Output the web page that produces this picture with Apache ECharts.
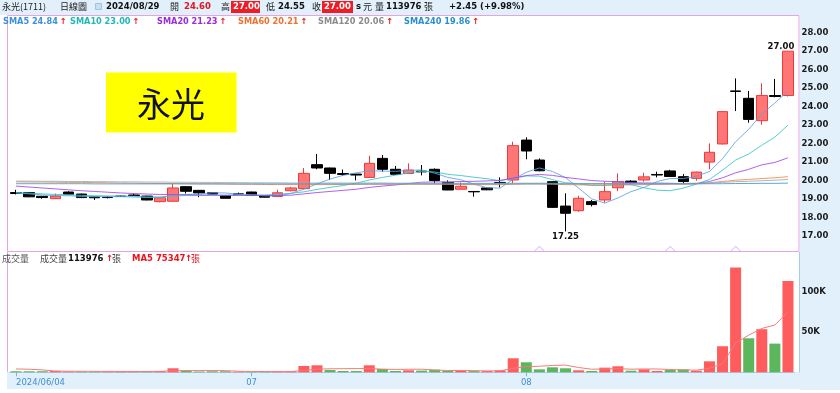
<!DOCTYPE html>
<html><head><meta charset="utf-8">
<script src="https://cdn.jsdelivr.net/npm/echarts@6/dist/echarts.min.js"></script>
<style>html,body{margin:0;padding:0;background:#fff}#c{width:840px;height:393px}</style>
</head><body><div id="c"></div><script>
const dates = ['2024/06/04','2024/06/05','2024/06/06','2024/06/07','2024/06/11','2024/06/12','2024/06/13','2024/06/14','2024/06/17','2024/06/18','2024/06/19','2024/06/20','2024/06/21','2024/06/24','2024/06/25','2024/06/26','2024/06/27','2024/06/28',
'2024/07/01','2024/07/02','2024/07/03','2024/07/04','2024/07/05','2024/07/08','2024/07/09','2024/07/10','2024/07/11','2024/07/12','2024/07/15','2024/07/16','2024/07/17','2024/07/18','2024/07/19','2024/07/22','2024/07/23','2024/07/26','2024/07/29','2024/07/30','2024/07/31',
'2024/08/01','2024/08/02','2024/08/05','2024/08/06','2024/08/07','2024/08/08','2024/08/09','2024/08/12','2024/08/13','2024/08/14','2024/08/15','2024/08/16','2024/08/19','2024/08/20','2024/08/21','2024/08/22','2024/08/23','2024/08/26','2024/08/27','2024/08/28','2024/08/29'];
const opens = [19.35,19.35,19.15,19.02,19.38,19.27,19.12,19.10,19.16,19.22,19.16,18.86,18.88,19.67,19.47,19.34,19.18,19.28,19.38,19.18,19.14,19.45,19.56,20.86,20.68,20.38,20.35,20.17,21.20,20.61,20.38,20.51,20.61,19.90,19.53,19.41,19.60,19.90,20.03,22.19,21.11,19.94,18.62,18.37,18.86,18.95,19.61,19.97,20.03,20.33,20.52,20.21,20.12,21.00,21.98,24.85,24.45,23.24,24.60,24.60];
const closes = [19.30,19.12,19.08,19.16,19.26,19.08,19.07,19.08,19.14,19.19,18.95,19.07,19.60,19.42,19.33,19.27,19.04,19.24,19.20,19.10,19.34,19.60,20.39,20.68,20.39,20.33,20.30,20.93,20.61,20.34,20.57,20.47,20.00,19.49,19.69,19.39,19.50,19.88,21.89,21.60,20.53,18.55,18.23,19.04,18.70,19.40,19.94,19.90,20.20,20.30,20.22,19.95,20.46,21.53,23.73,24.82,23.31,24.60,24.55,27.00];
const lows = [19.25,19.10,19.02,19.00,19.24,19.05,18.95,19.03,19.12,19.17,18.93,18.82,18.86,19.30,19.10,19.25,19.03,19.22,19.17,19.08,19.12,19.42,19.55,20.61,20.03,20.25,20.01,20.15,20.48,20.32,20.36,20.28,19.85,19.48,19.52,19.13,19.48,19.63,19.85,21.15,20.50,18.52,17.25,18.31,18.60,18.80,19.43,19.82,19.94,20.17,20.20,19.81,19.99,20.61,21.95,23.76,23.13,23.02,24.50,24.55];
const highs = [19.50,19.38,19.16,19.30,19.42,19.30,19.12,19.15,19.18,19.29,19.18,19.09,19.82,19.68,19.49,19.36,19.19,19.35,19.40,19.20,19.50,19.66,20.68,21.44,20.70,20.60,20.37,21.34,21.38,20.79,20.93,20.84,20.66,20.01,19.90,19.42,19.65,20.17,22.10,22.34,21.20,19.96,19.31,19.18,18.95,19.94,20.39,20.02,20.42,20.48,20.58,20.35,20.48,22.01,23.75,25.53,24.85,25.26,25.50,27.00];
const volumes = [1300,1300,1300,1700,1000,1000,1000,1000,1000,1000,1200,1500,5000,2000,1000,1300,1300,800,700,700,1000,1200,7900,8750,2900,1700,1700,8750,4200,1700,2500,2100,3300,1700,1700,1500,1500,2500,17500,12500,3700,6200,5000,2500,1700,5800,7500,2000,3700,1600,2900,3700,2000,13700,32500,130800,42400,53800,35760,113976];
const volMa5 = [4200,3800,3000,1500,1320,1260,1200,1140,1000,1000,1040,1140,1940,2140,2140,2160,2120,1280,1020,960,900,880,2300,3910,4350,4490,4590,4760,3850,3610,3770,3850,2760,2260,2260,2060,1740,1780,4940,7100,7540,8480,8980,5980,3820,4240,4500,3900,4140,4120,3540,2780,2780,4780,10960,36540,46280,54640,59050,75347];
const ma5 = [19.32,19.28,19.22,19.18,19.18,19.14,19.13,19.13,19.13,19.11,19.09,19.09,19.19,19.25,19.27,19.34,19.33,19.26,19.22,19.17,19.18,19.30,19.53,19.82,20.08,20.28,20.42,20.53,20.51,20.50,20.55,20.58,20.40,20.17,20.04,19.81,19.61,19.59,20.07,20.45,20.68,20.49,20.16,19.59,19.01,18.78,19.06,19.40,19.63,19.95,20.11,20.11,20.23,20.49,21.18,22.10,22.77,23.60,24.20,24.84];
const ma10 = [19.35,19.32,19.28,19.25,19.23,19.20,19.18,19.17,19.16,19.15,19.11,19.11,19.16,19.19,19.19,19.21,19.21,19.23,19.23,19.22,19.26,19.31,19.39,19.52,19.63,19.73,19.86,20.03,20.17,20.29,20.41,20.50,20.46,20.34,20.27,20.18,20.10,19.99,20.12,20.25,20.24,20.05,19.88,19.83,19.73,19.73,19.78,19.78,19.61,19.48,19.45,19.59,19.81,20.06,20.56,21.11,21.44,21.91,22.35,23.00];
const ma20 = [19.70,19.65,19.60,19.55,19.50,19.45,19.41,19.37,19.33,19.30,19.27,19.25,19.24,19.23,19.22,19.21,19.20,19.20,19.19,19.19,19.19,19.21,19.28,19.35,19.41,19.47,19.53,19.63,19.70,19.76,19.84,19.91,19.93,19.93,19.95,19.96,19.98,20.01,20.14,20.27,20.33,20.28,20.17,20.09,20.00,19.96,19.94,19.89,19.87,19.86,19.85,19.82,19.84,19.95,20.15,20.42,20.61,20.85,20.98,21.23];
const ma60 = [19.93,19.92,19.92,19.91,19.90,19.90,19.89,19.88,19.87,19.86,19.85,19.84,19.84,19.83,19.82,19.82,19.81,19.80,19.80,19.79,19.78,19.78,19.78,19.78,19.78,19.79,19.79,19.80,19.80,19.80,19.80,19.80,19.80,19.79,19.79,19.78,19.78,19.78,19.80,19.82,19.82,19.80,19.78,19.77,19.76,19.76,19.77,19.77,19.78,19.79,19.80,19.81,19.83,19.88,19.95,20.02,20.06,20.11,20.15,20.21];
const ma120 = [19.97,19.97,19.96,19.96,19.95,19.95,19.94,19.94,19.93,19.93,19.92,19.92,19.91,19.91,19.90,19.90,19.89,19.89,19.88,19.88,19.88,19.87,19.87,19.87,19.87,19.87,19.87,19.87,19.87,19.86,19.86,19.86,19.86,19.86,19.85,19.85,19.85,19.85,19.86,19.86,19.86,19.85,19.85,19.84,19.84,19.84,19.84,19.84,19.85,19.85,19.85,19.85,19.86,19.87,19.90,19.94,19.96,19.99,20.02,20.06];
const ma240 = [19.83,19.83,19.83,19.83,19.83,19.83,19.82,19.82,19.82,19.82,19.82,19.82,19.82,19.82,19.82,19.82,19.82,19.82,19.82,19.82,19.82,19.82,19.82,19.82,19.82,19.82,19.82,19.82,19.82,19.82,19.82,19.82,19.82,19.82,19.82,19.82,19.82,19.82,19.82,19.82,19.82,19.82,19.82,19.82,19.82,19.82,19.82,19.82,19.82,19.82,19.82,19.82,19.82,19.83,19.83,19.84,19.84,19.85,19.85,19.86];
const eventMarks = [[40,16.3],[50,16.3],[55,16.3]];
const maNames = ['SMA5','SMA10','SMA20','SMA60','SMA120','SMA240'];
const maLast = ['24.84','23.00','21.23','20.21','20.06','19.86'];

const maLineColors = ['#5aa2e6','#35c4c4','#a244ee','#f3864a','#a8a8a8','#3a9ad6'];
const maTextColors = ['#3d8fe0','#22b8b8','#9a2be2','#ef7030','#8c8c8c','#2a8fd0'];
const maX = [3,70,157,238,318,404];
const numFont = 'bold 8.5px "DejaVu Sans", Verdana, sans-serif';
const legFont = 'bold 8.2px "DejaVu Sans", Verdana, sans-serif';
const cjkFont = '9px "Noto Sans CJK TC", sans-serif';

const candleData = opens.map((o,i)=>[o, closes[i], lows[i], highs[i]]);
const volData = volumes.map((v,i)=>({value:v, itemStyle:{color: (i>0 && closes[i] >= closes[i-1]) ? '#ff5d5d' : '#5cb65c'}}));
const isMonthStart = (idx) => idx===0 || dates[idx].slice(5,7)!==dates[idx-1].slice(5,7);

function txt(x, y, text, font, fill, extra){
  return Object.assign({type:'text', x:x, y:y, z:50, silent:true,
    style:{text:text, font:font, fill:fill, textVerticalAlign:'middle', verticalAlign:'middle'}}, extra||{});
}
const graphics = [
  {type:'rect', shape:{x:0,y:0,width:840,height:15}, style:{fill:'#e2f0fb'}, z:-10, silent:true},
  {type:'rect', shape:{x:800,y:15,width:40,height:375}, style:{fill:'#e2f0fb'}, z:-10, silent:true},
  {type:'rect', shape:{x:7,y:372,width:793,height:17}, style:{fill:'#e2f0fb'}, z:-10, silent:true},
  {type:'rect', shape:{x:7.5,y:15.5,width:791.5,height:236}, style:{fill:null, stroke:'#e3a6e3', lineWidth:1}, z:40, silent:true},
  {type:'line', shape:{x1:7.5,y1:251.5,x2:7.5,y2:372}, style:{stroke:'#e3a6e3', lineWidth:1}, z:40, silent:true},
  {type:'line', shape:{x1:799.5,y1:252,x2:799.5,y2:372.5}, style:{stroke:'#a9cde9', lineWidth:1}, z:40, silent:true},
  {type:'rect', shape:{x:106,y:72.5,width:130.5,height:60}, style:{fill:'#ffff00'}, z:30, silent:true},
  txt(171, 104, '永光', '34px "Noto Sans CJK TC", sans-serif', '#111', {style:{text:'永光', font:'34px "Noto Sans CJK TC", sans-serif', fill:'#111', textAlign:'center', align:'center', textVerticalAlign:'middle', verticalAlign:'middle'}}),
  // header
  txt(2, 7, '永光(1711)', cjkFont, '#222'),
  txt(60, 7, '日線圖', cjkFont, '#222'),
  {type:'rect', shape:{x:95.5,y:3.5,width:6,height:6}, style:{fill:'#c6e0f2', stroke:'#9cc6e6'}, z:50, silent:true},
  txt(106, 7, '2024/08/29', numFont, '#111'),
  txt(170, 7, '開', cjkFont, '#222'),
  txt(184, 7, '24.60', numFont, '#e8141e'),
  txt(221, 7, '高', cjkFont, '#222'),
  {type:'rect', shape:{x:231,y:1,width:29,height:12}, style:{fill:'#ee1c24'}, z:45, silent:true},
  txt(233, 7, '27.00', numFont, '#fff'),
  txt(266, 7, '低', cjkFont, '#222'),
  txt(278, 7, '24.55', numFont, '#111'),
  txt(312, 7, '收', cjkFont, '#222'),
  {type:'rect', shape:{x:322,y:1,width:31,height:12}, style:{fill:'#ee1c24'}, z:45, silent:true},
  txt(324, 7, '27.00', numFont, '#fff'),
  txt(356, 7, 's', numFont, '#111'),
  txt(363, 7, '元', cjkFont, '#222'),
  txt(375, 7, '量', cjkFont, '#222'),
  txt(386, 7, '113976', numFont, '#111'),
  txt(424, 7, '張', cjkFont, '#222'),
  txt(449, 7, '+2.45 (+9.98%)', numFont, '#111'),
  // volume legend
  txt(2, 258.5, '成交量', cjkFont, '#555'),
  txt(40, 258.5, '成交量', cjkFont, '#444'),
  txt(68, 258.5, '113976', numFont, '#111'),
  txt(106, 258.5, '↑', numFont, '#e8141e'),
  txt(112, 258.5, '張', cjkFont, '#444'),
  txt(132, 258.5, 'MA5 75347', numFont, '#e8141e'),
  txt(185, 258.5, '↑', numFont, '#e8141e'),
  txt(191, 258.5, '張', cjkFont, '#e8141e')
];
maNames.forEach((n,k)=>{
  graphics.push({type:'text', x:maX[k], y:22, z:50, silent:true, style:{
    text:'{n|'+n+' '+maLast[k]+'}{a|↑}', font:legFont, textVerticalAlign:'middle', verticalAlign:'middle',
    rich:{n:{fill:maTextColors[k], color:maTextColors[k], font:legFont}, a:{fill:'#e8141e', color:'#e8141e', font:legFont, padding:[0,0,0,2]}}}});
});

const chart = echarts.init(document.getElementById('c'), null, {renderer:'canvas'});
const maSeries = [ma5,ma10,ma20,ma60,ma120,ma240].map((d,k)=>({
  name:maNames[k], type:'line', data:d, xAxisIndex:0, yAxisIndex:0, showSymbol:false, symbol:'none',
  lineStyle:{width:1, color:maLineColors[k], opacity:0.85}, z:3, silent:true
}));
chart.setOption({
  animation:false,
  backgroundColor:'#ffffff',
  grid:[
    {left:9.5, top:14.2, width:785, height:240.3},
    {left:9.5, top:252, width:785, height:120.3}
  ],
  xAxis:[
    {type:'category', gridIndex:0, data:dates, boundaryGap:true, axisLine:{show:false}, axisTick:{show:false}, axisLabel:{show:false}, splitLine:{show:false}},
    {type:'category', gridIndex:1, data:dates, boundaryGap:true,
      axisLine:{show:true, lineStyle:{color:'#a9cde9'}},
      axisTick:{show:true, alignWithLabel:true, length:4, interval:(i)=>isMonthStart(i), lineStyle:{color:'#7fb2dc'}},
      axisLabel:{show:true, interval:(i)=>isMonthStart(i), formatter:(v,i)=> i===0 ? v : v.slice(5,7),
        color:'#3d8fd3', fontSize:8.5, fontFamily:'"DejaVu Sans", Verdana, sans-serif', margin:6, alignMinLabel:'left', hideOverlap:false},
      splitLine:{show:false}}
  ],
  yAxis:[
    {type:'value', gridIndex:0, position:'right', min:16, max:29, interval:1, scale:true,
      axisLine:{show:false}, axisTick:{show:false}, splitLine:{show:false},
      axisLabel:{formatter:(v)=> (v>16.5 && v<28.5) ? v.toFixed(2) : '', color:'#1a1a1a', fontWeight:'bold', fontSize:8.5, fontFamily:'"DejaVu Sans", Verdana, sans-serif', margin:7, showMinLabel:true, showMaxLabel:true}},
    {type:'value', gridIndex:1, position:'right', min:0, max:150000, interval:50000,
      axisLine:{show:false}, axisTick:{show:false}, splitLine:{show:false},
      axisLabel:{formatter:(v)=> (v>0 && v<150000) ? (v/1000)+'K' : '', color:'#1a1a1a', fontWeight:'bold', fontSize:8.5, fontFamily:'"DejaVu Sans", Verdana, sans-serif', margin:7}}
  ],
  graphic:{elements:graphics},
  series:[
    {type:'candlestick', name:'K', data:candleData, xAxisIndex:0, yAxisIndex:0, barWidth:11, z:2,
      itemStyle:{color:'#ff7676', color0:'#000000', borderColor:'#f03a3a', borderColor0:'#000000', borderWidth:1},
      markPoint:{symbol:'circle', symbolSize:0, silent:true,
        label:{show:true, color:'#111', fontWeight:'bold', fontSize:8.5, fontFamily:'"DejaVu Sans", Verdana, sans-serif', formatter:(p)=> Number(p.value).toFixed(2)},
        data:[
          {type:'max', valueDim:'highest', label:{position:'top', distance:0, offset:[-7,0]}},
          {type:'min', valueDim:'lowest', label:{position:'bottom', distance:1}}
        ]}
    },
    ...maSeries,
    {type:'scatter', data:eventMarks, xAxisIndex:0, yAxisIndex:0, symbol:'triangle', symbolSize:[10,5], silent:true, z:4,
      itemStyle:{color:'#ffffff', borderColor:'#d8b8f0', borderWidth:1}},
    {type:'bar', data:volData, xAxisIndex:1, yAxisIndex:1, barWidth:11, z:2},
    {type:'line', data:volMa5, xAxisIndex:1, yAxisIndex:1, showSymbol:false, symbol:'none', lineStyle:{width:1, color:'#f47a7a'}, z:3, silent:true}
  ]
});
</script></body></html>
